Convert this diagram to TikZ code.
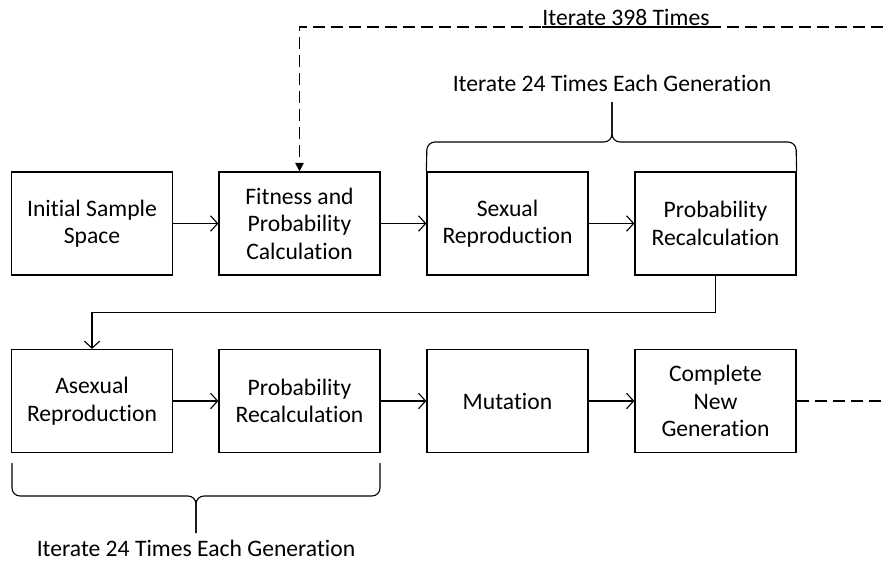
\documentclass[tikz,border=0pt]{standalone}
\usepackage{fontspec}
\setmainfont{Carlito}[Ligatures=NoCommon]
\usetikzlibrary{arrows.meta}
\tikzset{
  stage/.style={draw,line width=0.9pt,minimum width=4.025cm,minimum height=2.575cm,
    inner sep=0pt,align=center,font=\fontsize{16.8}{19.5}\selectfont},
  flow/.style={line width=0.8pt,-{Straight Barb[length=5pt,width=11pt]}},
  repeatline/.style={line width=0.8pt,dash pattern=on 8.5pt off 4.3pt},
  curly/.style={line width=0.8pt,rounded corners=0.2cm},
  note/.style={font=\fontsize{16.8}{19.5}\selectfont,inner sep=1pt}
}
\begin{document}
\begin{tikzpicture}[>=stealth,x=0.025cm,y=-0.025cm]
    \useasboundingbox (0,0) rectangle (883,562);
    \def\rowa{223.5}
    \def\rowb{401}
    % first row
    \node[stage] (init) at (92,\rowa) {Initial Sample\\Space};
    \node[stage] (fit) at (299.5,\rowa) {Fitness and\\Probability\\Calculation};
    \node[stage] (sex) at (507.5,\rowa) {Sexual\\Reproduction};
    \node[stage] (prob1) at (715.5,\rowa) {Probability\\Recalculation};
    % second row
    \node[stage] (asex) at (92,\rowb) {Asexual\\Reproduction};
    \node[stage] (prob2) at (299.5,\rowb) {Probability\\Recalculation};
    \node[stage] (mut) at (507.5,\rowb) {Mutation};
    \node[stage] (gen) at (715.5,\rowb) {Complete\\New\\Generation};
    \draw[flow] (init) -- (fit);
    \draw[flow] (fit) -- (sex);
    \draw[flow] (sex) -- (prob1);
    \draw[flow] (prob1.south) -- ++(0,37) -| (asex.north);
    \draw[flow] (asex) -- (prob2);
    \draw[flow] (prob2) -- (mut);
    \draw[flow] (mut) -- (gen);
    % outer loop
    \coordinate (outend) at (883,\rowb);
    \coordinate (inend) at (883,27);
    \draw[repeatline] (gen.east) -- (outend);
    \draw[repeatline,-{Triangle[length=6pt,width=6pt]}] (inend) -| (fit.north);
    \node[note,anchor=south,inner xsep=0pt] (outer) at (626,27) {Iterate 398 Times};
    \draw[line width=0.8pt] (outer.south west) -- (outer.south east);
    % braces
    \draw[curly] (sex.north west) -- (427,142) -- (612,142) -- (612,102);
    \draw[curly] (prob1.north east) -- (796,142) -- (612,142) -- (612,102);
    \node[note] (topnote) at (612,83) {Iterate 24 Times Each Generation};
    \draw[curly] (12,463) -- (12,496) -- (196,496) -- (196,533);
    \draw[curly] (380,463) -- (380,496) -- (196,496) -- (196,533);
    \node[note] (botnote) at (196,548) {Iterate 24 Times Each Generation};
\end{tikzpicture}
\end{document}
